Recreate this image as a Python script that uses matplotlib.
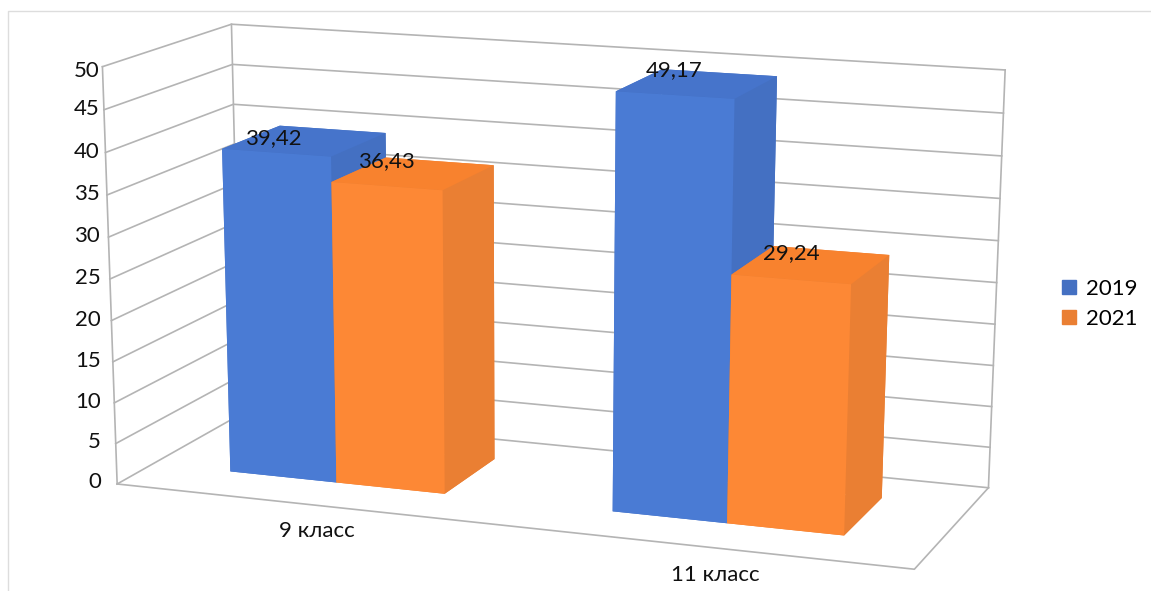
import matplotlib
matplotlib.use("Agg")
import matplotlib.pyplot as plt
from matplotlib.lines import Line2D
from matplotlib.patches import Patch
import numpy as np

plt.rcParams['font.family'] = ['Lato', 'DejaVu Sans']

categories = ['9 класс', '11 класс']
series_names = ['2019', '2021']
values_2019 = [39.42, 49.17]
values_2021 = [36.43, 29.24]
labels_2019 = ['39,42', '49,17']
labels_2021 = ['36,43', '29,24']
z_ticks = list(range(0, 55, 5))

GRID = '#b4b4b4'
BLUE = {'front': '#4a7bd4', 'top': '#4674cb', 'side': '#4470c2'}
ORANGE = {'front': '#fd8835', 'top': '#f8822e', 'side': '#ea7f33'}

# box corners (category, depth, value) and where they sit in the picture
box_points = [(0, 0, 0), (0, 0, 50), (0, 1, 0), (0, 1, 50), (2, 1, 0), (2, 1, 50), (2, 0, 0)]
pixel_points = [(117, 482), (102, 68), (241, 416), (232, 23), (988, 487), (1005, 70), (915, 570)]

bar_width = 0.285
bar_start = 0.21
depth_front, depth_back = 0.28, 0.75

# hand placed data labels: shift along the category axis / value axis
label_dx = [[-0.085, -0.07], [-0.058, -0.05]]
label_dz = [[0.0, 1.2], [1.4, 1.2]]


def fit_camera(box, pixels):
    # plain DLT, gives the 3x4 matrix from box coordinates to pixels
    rows = []
    for (x, y, z), (u, v) in zip(box, pixels):
        rows.append([x, y, z / 50, 1, 0, 0, 0, 0, -u * x, -u * y, -u * z / 50, -u])
        rows.append([0, 0, 0, 0, x, y, z / 50, 1, -v * x, -v * y, -v * z / 50, -v])
    p = np.linalg.svd(np.array(rows, float))[2][-1].reshape(3, 4)
    p[:, 2] /= 50
    return p if p[2, 3] > 0 else -p


camera = fit_camera(box_points, pixel_points)

fig = plt.figure(figsize=(11.51, 5.91), dpi=100)
ax = fig.add_axes([0, 0, 1, 1], projection='3d', computed_zorder=False)
ax.set_axis_off()
ax.set_xlim(0, 2)
ax.set_ylim(0, 1)
ax.set_zlim(0, 50)
ax.set_xticks([])
ax.set_yticks([])
ax.set_zticks([])


def get_proj():
    # pixels -> display -> whatever 2d limits the 3d axes is using right now
    flip = np.array([[1, 0, 0], [0, -1, 591], [0, 0, 1]], float)
    m = ax.transData.inverted().get_matrix() @ flip @ camera
    return np.vstack([m[0], m[1], [0, 0, 0, -1], m[2]])


ax.get_proj = get_proj


def grid_line(xs, ys, zs):
    ax.plot(xs, ys, zs, color=GRID, lw=1.2, zorder=1, clip_on=False)


for z in z_ticks:
    grid_line([0, 0, 2], [0, 1, 1], [z, z, z])
    # labels stand in one column, the wall edge leans away from it
    ax.text(-0.043 + 0.035 * z / 50, 0, z - (0.5 if z == 50 else 0), str(z), ha='right', va='center',
            fontsize=16, color='#111111', clip_on=False)
grid_line([0, 0], [0, 0], [0, 50])
grid_line([0, 0], [1, 1], [0, 50])
grid_line([2, 2], [1, 1], [0, 50])
grid_line([0, 2, 2], [0, 0, 1], [0, 0, 0])

order = 2
for i, cat in enumerate(categories):
    for j, (vals, col) in enumerate([(values_2019, BLUE), (values_2021, ORANGE)]):
        x0 = i + bar_start + j * bar_width
        faces = [col['side'], col['top'], col['front'], col['side'], col['side'], col['side']]
        bars = ax.bar3d(x0, depth_front, 0, bar_width, depth_back - depth_front, vals[i],
                        color=faces, shade=False, zorder=order)
        bars.set_clip_on(False)
        order += 1
    ax.text(i + 0.53, 0, -3.2, cat, ha='center', va='center', fontsize=16, color='#111111',
            zorder=20, clip_on=False)

for i in range(len(categories)):
    for j, (vals, labs) in enumerate([(values_2019, labels_2019), (values_2021, labels_2021)]):
        xc = i + bar_start + (j + 0.5) * bar_width + label_dx[i][j]
        ax.text(xc, (depth_front + depth_back) / 2, vals[i] + label_dz[i][j], labs[i], ha='center',
                va='center', fontsize=16, color='#111111', zorder=30, clip_on=False)

handles = [Patch(color=BLUE['side'], label=series_names[0]),
           Patch(color=ORANGE['side'], label=series_names[1])]
ax.legend(handles=handles, loc='center left', bbox_to_anchor=(1042 / 1151, 1 - 304 / 591),
          bbox_transform=fig.transFigure, frameon=False, fontsize=16, handlelength=0.62,
          handleheight=0.62, handletextpad=0.45, labelspacing=0.45)

# thin frame of the pasted picture
fig.add_artist(Line2D([8 / 1151, 8 / 1151, 1], [0, 1 - 11 / 591, 1 - 11 / 591], color='#dddddd', lw=1))

fig.savefig('out.png', dpi=100)
